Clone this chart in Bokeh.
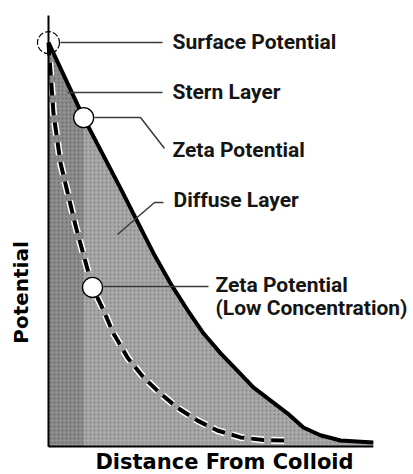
import math
from bokeh.plotting import figure
from bokeh.models import Label, Range1d
from bokeh.embed import file_html
from bokeh.resources import INLINE

# ---- data (distance from colloid vs potential, arbitrary units) ----
solid_x = [0.0, 9.9, 20.3, 25.9, 29.6, 34.4, 39.2, 43.7, 48.5, 53.2, 57.7, 62.5, 67.3, 71.8, 76.6, 82.3, 91.5]
solid_y = [93.7, 76.3, 59.9, 50.8, 44.8, 37.8, 31.6, 26.2, 21.6, 17.6, 13.7, 10.7, 7.7, 4.4, 2.6, 1.4, 0.9]

dashed_x = [0.0, 1.4, 3.4, 7.6, 12.4, 15.5, 18.3, 22.3, 26.8, 31.5, 36.3, 42.0, 47.6, 54.1, 60.6, 67.3]
dashed_y = [93.7, 77.3, 65.7, 51.3, 36.9, 31.6, 26.2, 20.6, 16.0, 12.3, 9.0, 6.0, 3.7, 2.1, 1.5, 1.4]

stern_end = 1  # index on the solid curve where the Stern layer ends (zeta potential)
zeta_low = 4   # index on the dashed curve for the low-concentration zeta potential
y_axis_top = 100.0

labels = ["Surface Potential", "Stern Layer", "Zeta Potential", "Diffuse Layer",
          "Zeta Potential", "(Low Concentration)"]
x_title = "Distance From Colloid"
y_title = "Potential"

# ---- figure ----
p = figure(width=413, height=474, output_backend="svg", toolbar_location=None,
           x_range=Range1d(-13.52, 102.82), y_range=Range1d(-6.50, 103.48),
           min_border=0)
p.outline_line_color = None
p.grid.visible = False
p.axis.visible = False
p.background_fill_color = "white"
p.border_fill_color = "white"


def px(xr, yr):
    return (xr - 48) / 3.55, (446 - yr) / 4.31


# shaded diffuse region
p.varea(x=solid_x, y1=[0] * len(solid_x), y2=solid_y, fill_color="#a8a8a8",
        hatch_pattern="dot", hatch_color="#6e6e6e", hatch_scale=4, hatch_weight=1.2, hatch_alpha=0.7)
# darker Stern layer region
p.varea(x=solid_x[:stern_end + 1], y1=[0] * (stern_end + 1), y2=solid_y[:stern_end + 1],
        fill_color="#8e8e8e", hatch_pattern="dot", hatch_color="#5a5a5a", hatch_scale=4,
        hatch_weight=1.2, hatch_alpha=0.7)

# dashed low-concentration curve with white halo
p.line(dashed_x, dashed_y, line_color="white", line_width=7, line_dash="13 7")
p.line(dashed_x, dashed_y, line_color="black", line_width=4, line_dash="13 7")

# solid potential curve
p.line(solid_x, solid_y, line_color="black", line_width=4)

# axis lines
p.line([0, 0], [0, y_axis_top], line_color="black", line_width=2)
p.line([0, solid_x[-1]], [0, 0], line_color="black", line_width=2)

# leader lines
leader_color = "#3a3a3a"
leaders = [
    [(60, 42), (162, 42)],
    [(67, 92), (162, 92)],
    [(94, 117), (140, 117), (164, 148)],
    [(163, 202), (154, 202), (117, 234)],
    [(103, 286), (208, 286)],
]
for seg in leaders:
    xs, ys = zip(*[px(a, b) for a, b in seg])
    p.line(list(xs), list(ys), line_color=leader_color, line_width=1.5)

# circles
p.scatter([solid_x[0]], [solid_y[0]], marker="circle", size=22, fill_color=None,
          line_color="black", line_width=1.2, line_dash="6 2")
p.scatter([solid_x[stern_end]], [solid_y[stern_end]], marker="circle", size=20,
          fill_color="white", line_color="black", line_width=1.3)
p.scatter([dashed_x[zeta_low]], [dashed_y[zeta_low]], marker="circle", size=20,
          fill_color="white", line_color="black", line_width=1.3)

# text annotations
pos = [(172, 42), (172, 92), (172, 150), (173, 200), (215, 285), (215, 308)]
for t, (a, b) in zip(labels, pos):
    lx, ly = px(a, b)
    p.add_layout(Label(x=lx, y=ly, text=t, text_font="Roboto",
                       text_font_style="bold", text_font_size="21px", text_color="#151515",
                       text_baseline="middle", text_align="left"))

# axis titles
tx, ty = px(21, 292)
p.add_layout(Label(x=tx, y=ty, text=y_title, angle=math.pi / 2, text_font="DejaVu Sans",
                   text_font_style="bold", text_font_size="20px", text_color="black",
                   text_align="center", text_baseline="middle"))
bx, by = px(224, 462)
p.add_layout(Label(x=bx, y=by, text=x_title, text_font="DejaVu Sans",
                   text_font_style="bold", text_font_size="21px", text_color="black",
                   text_align="center", text_baseline="middle"))

open("out.html", "w").write(file_html(p, INLINE))
